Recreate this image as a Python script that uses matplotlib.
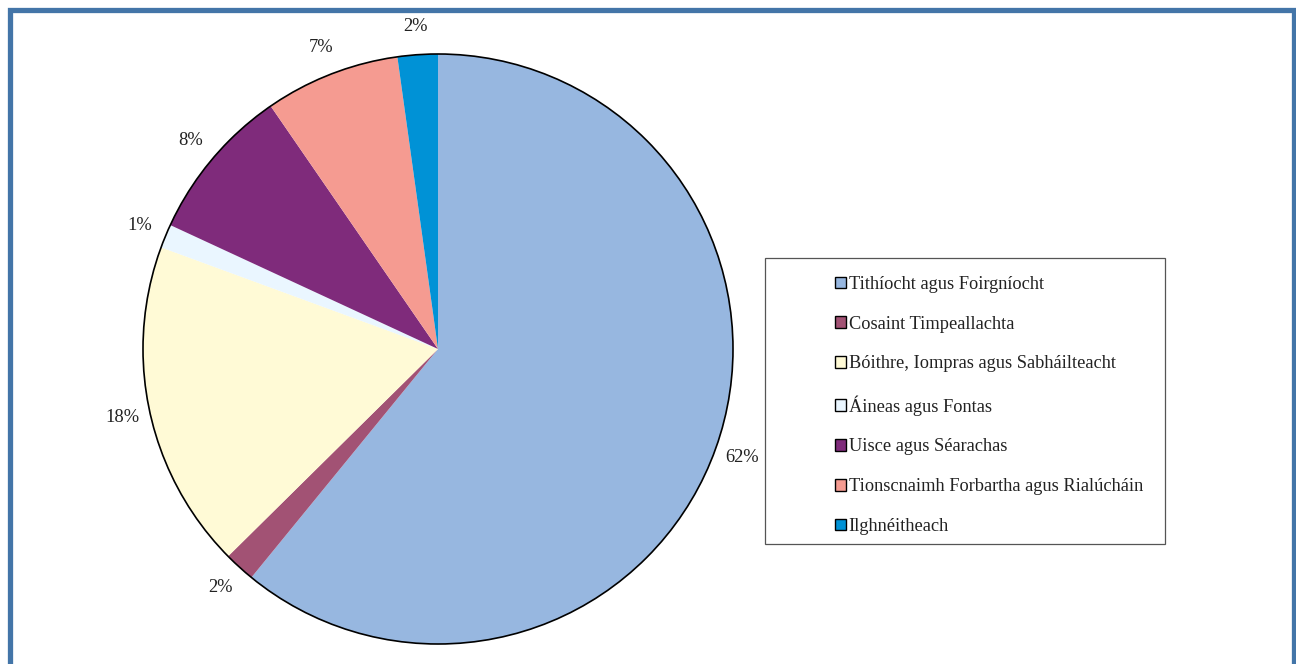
import matplotlib.pyplot as plt
from matplotlib.patches import Rectangle, Circle

# Share of spending by programme (slice sizes)
categories = [
    "Tithíocht agus Foirgníocht",
    "Cosaint Timpeallachta",
    "Bóithre, Iompras agus Sabháilteacht",
    "Áineas agus Fontas",
    "Uisce agus Séarachas",
    "Tionscnaimh Forbartha agus Rialúcháin",
    "Ilghnéitheach",
]
shares = [60.9, 1.7, 18.0, 1.3, 8.5, 7.4, 2.2]
pct_labels = ["62%", "2%", "18%", "1%", "8%", "7%", "2%"]
colors = ["#97B7E0", "#A25274", "#FFFAD6", "#EAF6FF", "#7F2B7B", "#F59B91", "#0092D6"]

W, H = 1296, 664
plt.rcParams['font.family'] = ['Liberation Serif', 'DejaVu Serif']

fig = plt.figure(figsize=(W / 100, H / 100), dpi=100)
fig.patch.set_facecolor("white")

# pie axes: centre ~ (438, 349) px, radius ~ 295 px
ax = fig.add_axes([138 / W, (H - 349 - 300) / H, 600 / W, 600 / H])
wedges, texts = ax.pie(
    shares,
    labels=pct_labels,
    colors=colors,
    startangle=90,
    counterclock=False,
    labeldistance=1.095,
    wedgeprops=dict(edgecolor="none", linewidth=0),
    textprops=dict(fontsize=13.3, color="#222222"),
)
for t in texts:
    t.set_horizontalalignment("center")
    t.set_verticalalignment("center")
ax.add_patch(Circle((0, 0), 1, facecolor="none", edgecolor="black", linewidth=1.2))
lim = 300 / 295
ax.set_xlim(-lim, lim)
ax.set_ylim(-lim, lim)
ax.set_aspect("equal")
ax.axis("off")

# legend frame
fig.patches.append(Rectangle((765 / W, (H - 544) / H), 400 / W, 286 / H,
                             transform=fig.transFigure, facecolor="white",
                             edgecolor="#555555", linewidth=0.9, zorder=1))
handles = [Rectangle((0, 0), 1, 1, facecolor=c, edgecolor="black", linewidth=1.0)
           for c in colors]
leg = fig.legend(handles, categories, loc="upper left",
                 bbox_to_anchor=(835 / W, (H - 276) / H),
                 frameon=False, fontsize=13.2, handlelength=0.6, handleheight=0.6,
                 handletextpad=0.15, labelspacing=1.24, borderpad=0, borderaxespad=0)
for t in leg.get_texts():
    t.set_color("#222222")

# outer blue frame (bottom edge is cut off)
fig.patches.append(Rectangle((9.5 / W, -10 / H), 1284 / W, (H - 9.5 + 10) / H,
                             transform=fig.transFigure, facecolor="none",
                             edgecolor="#4375A8", linewidth=3.8, zorder=5))

fig.savefig("out.png", dpi=100)
